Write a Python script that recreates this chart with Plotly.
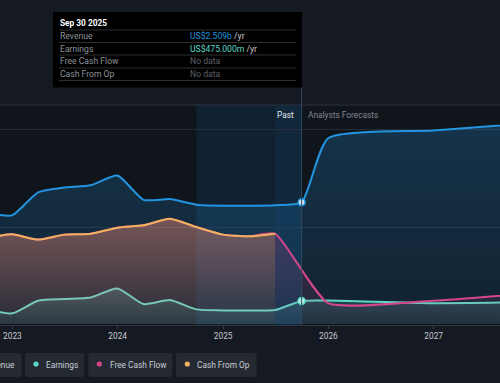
import plotly.graph_objects as go

# ---------------- data ----------------
past_dates = ['2022-09-30', '2022-12-31', '2023-03-31', '2023-06-30', '2023-09-30',
              '2023-12-31', '2024-03-31', '2024-06-30', '2024-09-30', '2024-12-31',
              '2025-03-31', '2025-06-30', '2025-09-30']
forecast_dates = ['2025-12-31', '2026-12-31', '2027-12-31']

revenue_past = [2300, 2240, 2715, 2815, 2860, 3060, 2560, 2575, 2460, 2440, 2440, 2450, 2509]
revenue_fc = [3830, 3990, 4150]

earnings_past = [320, 220, 480, 514, 548, 733, 411, 493, 302, 281, 281, 288, 475]
earnings_fc = [485, 430, 455]

cfo_dates = past_dates[:-1]
cfo_past = [1770, 1849, 1740, 1843, 1863, 1986, 2034, 2171, 1999, 1843, 1808, 1863]

fcf_dates = cfo_dates
fcf_past = [1770, 1849, 1740, 1843, 1863, 1986, 2034, 2171, 1999, 1843, 1808, 1863]
fcf_fc = [430, 480, 650]

year_ticks = ['2023-01-01', '2024-01-01', '2025-01-01', '2026-01-01', '2027-01-01']
year_labels = ['2023', '2024', '2025', '2026', '2027']

legend_names = ['Revenue', 'Earnings', 'Free Cash Flow', 'Cash From Op']

# ---------------- style ----------------
C_REV = '#2394df'
C_EARN = '#5dd8c6'
C_FCF = '#d4478a'
C_CFO = '#f0b060'
FONT = 'Roboto'

W, H = 500, 383
PT, PB = 105, 325  # plot top/bottom in px


def X(px):
    return px / W


def Y(py):
    return (PB - py) / (PB - PT)


def rgba(hexc, a):
    h = hexc.lstrip('#')
    r, g, b = int(h[0:2], 16), int(h[2:4], 16), int(h[4:6], 16)
    return f'rgba({r},{g},{b},{a})'


def grad(c, a_top, a_bot):
    return dict(type='vertical',
                colorscale=[[0, rgba(c, a_bot)], [1, rgba(c, a_top)]])


fig = go.Figure()

# Revenue
fig.add_trace(go.Scatter(
    x=past_dates + forecast_dates, y=revenue_past + revenue_fc,
    mode='lines', line=dict(color=C_REV, width=2, shape='spline', smoothing=0.55),
    fill='tozeroy', fillgradient=grad(C_REV, 0.24, 0.1), hoverinfo='skip'))

# Earnings
fig.add_trace(go.Scatter(
    x=past_dates + forecast_dates, y=earnings_past + earnings_fc,
    mode='lines', line=dict(color=C_EARN, width=2, shape='spline', smoothing=0.6),
    fill='tozeroy', fillgradient=grad(C_EARN, 0.22, 0.08), hoverinfo='skip'))

# Free cash flow
fig.add_trace(go.Scatter(
    x=fcf_dates + forecast_dates, y=fcf_past + fcf_fc,
    mode='lines', line=dict(color=C_FCF, width=2, shape='spline', smoothing=0.5),
    fill='tozeroy', fillgradient=grad(C_FCF, 0.26, 0.05), hoverinfo='skip'))

# Cash from op
fig.add_trace(go.Scatter(
    x=cfo_dates, y=cfo_past,
    mode='lines', line=dict(color=C_CFO, width=2, shape='spline', smoothing=0.6),
    fill='tozeroy', fillgradient=grad(C_CFO, 0.28, 0.05), hoverinfo='skip'))

# markers at the last reported point
fig.add_trace(go.Scatter(
    x=[past_dates[-1]], y=[revenue_past[-1]], mode='markers',
    marker=dict(size=7, color='#cfe7f8', line=dict(color=C_REV, width=1.5)),
    hoverinfo='skip'))
fig.add_trace(go.Scatter(
    x=[past_dates[-1]], y=[earnings_past[-1]], mode='markers',
    marker=dict(size=7, color='#b8f1e8', line=dict(color=C_EARN, width=1.5)),
    hoverinfo='skip'))

shapes = []
# last-year highlight band
shapes.append(dict(type='rect', xref='x', yref='paper', x0='2024-09-30', x1=past_dates[-1],
                   y0=0, y1=1, fillcolor='rgba(25,120,200,0.13)', line=dict(width=0),
                   layer='below'))
shapes.append(dict(type='rect', xref='x', yref='paper', x0='2025-06-30', x1=past_dates[-1],
                   y0=0, y1=1, fillcolor='rgba(25,120,200,0.07)', line=dict(width=0),
                   layer='below'))
# top border
shapes.append(dict(type='line', xref='paper', yref='paper', x0=0, x1=1, y0=1, y1=1,
                   line=dict(color='#2b323c', width=1.2)))
# divider
shapes.append(dict(type='line', xref='x', yref='paper', x0=past_dates[-1], x1=past_dates[-1],
                   y0=0, y1=Y(87), line=dict(color='#34485c', width=1)))

# tooltip box
shapes.append(dict(type='rect', xref='paper', yref='paper', x0=X(53), x1=X(302),
                   y0=Y(87.5), y1=Y(12), fillcolor='#000000', line=dict(width=0)))
for sy in [30, 42.5, 55, 68, 80.5]:
    shapes.append(dict(type='line', xref='paper', yref='paper', x0=X(59), x1=X(296),
                       y0=Y(sy), y1=Y(sy), line=dict(color='#2e2e2e', width=1)))


def rrect(x0, y0, x1, y1, r):
    pts = [
        f'M {X(x0 + r)},{Y(y0)}', f'L {X(x1 - r)},{Y(y0)}',
        f'Q {X(x1)},{Y(y0)} {X(x1)},{Y(y0 + r)}', f'L {X(x1)},{Y(y1 - r)}',
        f'Q {X(x1)},{Y(y1)} {X(x1 - r)},{Y(y1)}', f'L {X(x0 + r)},{Y(y1)}',
        f'Q {X(x0)},{Y(y1)} {X(x0)},{Y(y1 - r)}', f'L {X(x0)},{Y(y0 + r)}',
        f'Q {X(x0)},{Y(y0)} {X(x0 + r)},{Y(y0)}', 'Z']
    return ' '.join(pts)


# legend buttons
buttons = [(-38, 21.7, -27, -18), (25, 84, 36, 45), (88.3, 172.3, 99.3, 108.5), (176, 256.7, 187.3, 196.3)]
colors = [C_REV, C_EARN, C_FCF, C_CFO]
annotations = []
for (bx0, bx1, dx, tx), name, col in zip(buttons, legend_names, colors):
    shapes.append(dict(type='path', xref='paper', yref='paper', path=rrect(bx0, 353, bx1, 377, 3),
                       fillcolor='#252a32', line=dict(width=0)))
    shapes.append(dict(type='circle', xref='paper', yref='paper', x0=X(dx - 2.6), x1=X(dx + 2.6),
                       y0=Y(364 + 2.6), y1=Y(364 - 2.6), fillcolor=col, line=dict(width=0)))
    annotations.append(dict(xref='paper', yref='paper', x=X(tx - 1), y=Y(364.5), text=name,
                            showarrow=False, xanchor='left', yanchor='middle',
                            font=dict(family=FONT, size=8.3, color='#c9ced6')))

# tooltip texts
annotations.append(dict(xref='paper', yref='paper', x=X(57.5), y=Y(23), text='<b>Sep 30 2025</b>',
                        showarrow=False, xanchor='left', yanchor='middle',
                        font=dict(family=FONT, size=8.3, color='#ffffff')))
rows = [
    ('Revenue', f"<span style='color:{C_REV}'>US$2.509b</span> /yr"),
    ('Earnings', f"<span style='color:{C_EARN}'>US$475.000m</span> /yr"),
    ('Free Cash Flow', "<span style='color:#5c6168'>No data</span>"),
    ('Cash From Op', "<span style='color:#5c6168'>No data</span>"),
]
for i, (lab, val) in enumerate(rows):
    yy = 36.3 + i * 12.6
    annotations.append(dict(xref='paper', yref='paper', x=X(57.5), y=Y(yy), text=lab,
                            showarrow=False, xanchor='left', yanchor='middle',
                            font=dict(family=FONT, size=8.6, color='#8d9299')))
    annotations.append(dict(xref='paper', yref='paper', x=X(187.5), y=Y(yy), text=val,
                            showarrow=False, xanchor='left', yanchor='middle',
                            font=dict(family=FONT, size=8.6, color='#c8c8c8')))

# Past / forecast labels
annotations.append(dict(xref='paper', yref='paper', x=X(296), y=Y(114.5), text='Past',
                        showarrow=False, xanchor='right', yanchor='middle',
                        font=dict(family=FONT, size=8.3, color='#e6e8eb')))
annotations.append(dict(xref='paper', yref='paper', x=X(306), y=Y(114.5), text='Analysts Forecasts',
                        showarrow=False, xanchor='left', yanchor='middle',
                        font=dict(family=FONT, size=8.3, color='#80868e')))

fig.update_layout(
    width=W, height=H,
    margin=dict(l=0, r=0, t=PT, b=H - PB, pad=0),
    paper_bgcolor='#151a22', plot_bgcolor='#10151c',
    showlegend=False, shapes=shapes, annotations=annotations,
    font=dict(family=FONT, size=8.3, color='#c8ccd2'),
    xaxis=dict(type='date', range=['2022-11-19', '2027-08-19'], tickvals=year_ticks,
               ticktext=year_labels, showgrid=False, showline=True, linecolor='#2f353e',
               ticks='outside', ticklen=3, tickcolor='#3a414b', zeroline=False,
               tickfont=dict(family=FONT, size=8.3, color='#c8ccd2')),
    yaxis=dict(range=[-20, 4515], dtick=2000, tick0=0, showgrid=True, gridcolor='#262d37',
               showticklabels=False, zeroline=False, ticks=''),
)

fig.write_html('out.html', config={'displayModeBar': False},
               post_script="document.body.style.margin='0';document.body.style.overflow='hidden';"
                           "document.body.style.background='#151a22';")
